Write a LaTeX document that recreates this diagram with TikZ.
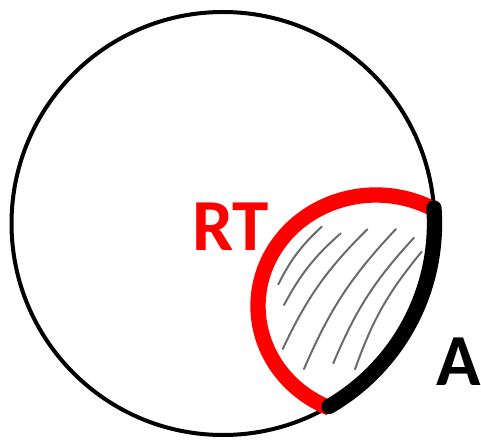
\documentclass[tikz,border=0pt]{standalone}
\usepackage{fontspec}
\setmainfont{Carlito}
\begin{document}
\begin{tikzpicture}[x=0.75pt,y=0.75pt,
    hatch/.style={black!58,line width=1.5pt,line cap=round,bend left=10},
    big/.style={font=\bfseries\fontsize{55}{55}\selectfont}]
    \useasboundingbox (0,0) rectangle (481,443);
    \coordinate (O) at (223,219.5);
    \coordinate (E) at (376,137);
    \draw[line width=3pt] (O) circle (211.5);
    % hatching
    \foreach \xa/\ya/\xb/\yb in {278.3/158.7/321.7/216.3, 284/138/340.7/209.7,
        282.7/94/367.3/213.7, 304/74/396/214, 333.3/79.7/414/205.3, 355/73.7/421.7/191.3}
        \draw[hatch] (\xa,\ya) to (\xb,\yb);
    % RT curve and region A
    \draw[red,line width=11.5pt] (E) ++(61.3:118 and 111)
        arc[start angle=61.3,end angle=247,x radius=118,y radius=111];
    \draw[line width=11.5pt,line cap=round] (O) ++(4.2:211.5)
        arc[start angle=4.2,end angle=-59.9,radius=211.5];
    \node[big,text=red] (rt) at (230.5,216.5) {RT};
    \node[big] (a) at (459,81.5) {A};
\end{tikzpicture}
\end{document}
